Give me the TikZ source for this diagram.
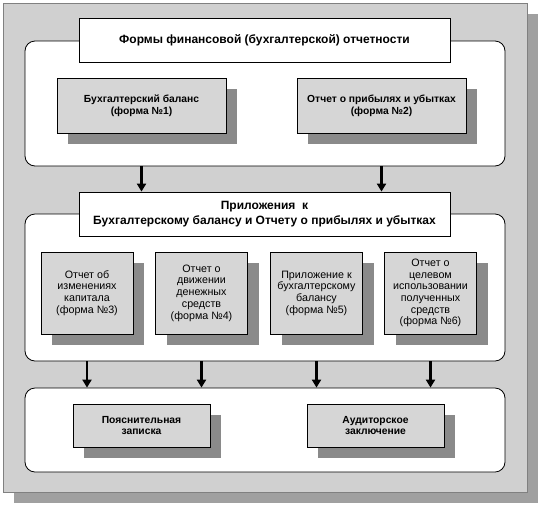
\documentclass[tikz,border=0pt]{standalone}
\usepackage{fontspec}
\setmainfont{Liberation Sans}
\usetikzlibrary{arrows.meta,shadows}

\definecolor{framegray}{RGB}{208,208,208}
\definecolor{boxgray}{RGB}{214,214,214}
\definecolor{shadegray}{RGB}{138,138,138}
\definecolor{outershade}{RGB}{160,160,160}

\begin{document}
\begin{tikzpicture}[x=1pt,y=-1pt]
		\tikzstyle{every node}=[align=center,inner sep=2pt]
		\tikzstyle{panel}=[draw,fill=white,rounded corners=10pt,line width=0.8pt]
		\tikzstyle{head}=[draw,fill=white,line width=0.8pt,font=\fontsize{12}{15.6}\selectfont\bfseries]
		\tikzstyle{form}=[draw,fill=boxgray,line width=0.8pt,
			drop shadow={shadow xshift=11pt,shadow yshift=-11pt,fill=shadegray,opacity=1}]
		\tikzstyle{bform}=[form,font=\fontsize{10.3}{11.7}\selectfont\bfseries]
		\tikzstyle{rform}=[form,font=\fontsize{10.7}{11.7}\selectfont,minimum width=92pt,minimum height=82pt]
		\tikzstyle{flow}=[line width=2.6pt,-{Triangle[length=8pt,width=9pt]}]
		
		\useasboundingbox (0,0) rectangle (540,504);
		
		% outer frame
		\node[draw=gray,fill=framegray,minimum width=524pt,minimum height=489pt,
			drop shadow={shadow xshift=11pt,shadow yshift=-11pt,fill=outershade,opacity=1}] (frame) at (265,247.5) {};
		
		% panels
		\node[panel,minimum width=480pt,minimum height=125pt] (panA) at (265,103.5) {};
		\node[panel,minimum width=480pt,minimum height=147pt] (panB) at (265,287.5) {};
		\node[panel,minimum width=480pt,minimum height=84pt] (panC) at (265,430) {};
		
		% headings
		\node[head,minimum width=371pt,minimum height=44pt] (headA) at (264.5,40) {Формы финансовой (бухгалтерской) отчетности};
		\node[head,minimum width=371pt,minimum height=44pt] (headB) at (264.5,214) {Приложения~~к\\Бухгалтерскому балансу и Отчету о прибылях и убытках};
		
		% forms 1 and 2
		\node[bform,minimum width=169pt,minimum height=55pt] (bal) at (141.5,105.5) {Бухгалтерский баланс\\(форма №1)};
		\node[bform,minimum width=169pt,minimum height=55pt] (pnl) at (381.5,105.5) {Отчет о прибылях и убытках\\(форма №2)};
		
		% forms 3 to 6
		\node[rform] (f3) at (87,293) {Отчет об\\изменениях\\капитала\\(форма №3)};
		\node[rform] (f4) at (201.5,293) {Отчет о\\движении\\денежных\\средств\\(форма №4)};
		\node[rform] (f5) at (316.5,293) {Приложение к\\бухгалтерскому\\балансу\\(форма №5)};
		\node[rform] (f6) at (430.5,293) {Отчет о\\целевом\\использовании\\полученных\\средств\\(форма №6)};
		
		% notes
		\node[bform,minimum width=137pt,minimum height=43pt] (note) at (141.5,425.5) {Пояснительная\\записка};
		\node[bform,minimum width=137pt,minimum height=43pt] (audit) at (375.5,425.5) {Аудиторское\\заключение};
		
		% arrows
		\draw[flow] (bal |- panA.south) -- (bal |- headB.north);
		\draw[flow] (pnl |- panA.south) -- (pnl |- headB.north);
		
		\draw[flow] (f3 |- panB.south) -- (f3 |- panC.north);
		\draw[flow] (f4 |- panB.south) -- (f4 |- panC.north);
		\draw[flow] (f5 |- panB.south) -- (f5 |- panC.north);
		\draw[flow] (f6 |- panB.south) -- (f6 |- panC.north);
		
\end{tikzpicture}
\end{document}
